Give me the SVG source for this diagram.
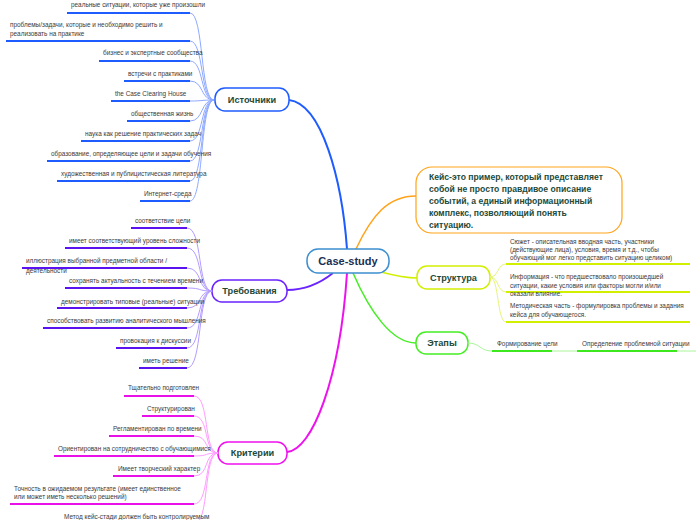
<svg xmlns="http://www.w3.org/2000/svg" width="696" height="520" viewBox="0 0 696 520">
<style>
.leaf{font-family:"Liberation Sans",Arial,sans-serif;font-size:6.4px;fill:#3a3a3a}
.nt{font-family:"Liberation Sans",Arial,sans-serif;font-weight:bold;fill:#1d4a3a;text-anchor:middle}
.lc{fill:none;stroke-width:1}
.ul{fill:none;stroke-width:2}
.b .ul{stroke:#1f5cff}
.b .lc{stroke:#8ea9ff}
.p .ul{stroke:#5b12f0}
.p .lc{stroke:#b49cff}
.m .ul{stroke:#e812e8}
.m .lc{stroke:#ff9cff}
.y .ul{stroke:#d2ef00}
.y .lc{stroke:#e4f57a}
.g .ul{stroke:#3ee81f}
.g .lc{stroke:#a9f59a}
</style>
<rect width="696" height="520" fill="#ffffff"/>
<g id="connectors">
<path d="M347,249 C342,180 322,104 289,100" fill="none" stroke="#1f5cff" stroke-width="2"/>
<path d="M356,249 C372,215 388,196 416,196" fill="none" stroke="#ffa31a" stroke-width="1.5"/>
<path d="M381,272 C396,276 405,278 417,278" fill="none" stroke="#d2ef00" stroke-width="1.5"/>
<path d="M353,273 C370,312 392,343 416,343" fill="none" stroke="#44ee22" stroke-width="1.5"/>
<path d="M333,273 C318,285 302,290 287,290" fill="none" stroke="#6a22ff" stroke-width="1.8"/>
<path d="M347,273 C340,380 312,450 287,452" fill="none" stroke="#ee11ee" stroke-width="2"/>
</g>
<g id="center"><rect x="307" y="249" width="82" height="24" rx="11" fill="#fff" stroke="#3d8fd0" stroke-width="1.5"/><text class="nt" x="348" y="265" font-size="11" style="fill:#1a2f55">Case-study</text></g>
<g id="node-istochniki"><rect x="215" y="88" width="74" height="23" rx="10" fill="#fff" stroke="#1f5cff" stroke-width="1.5"/><text class="nt" x="252" y="102.8" font-size="9.2">Источники</text></g>
<g id="node-trebovaniya"><rect x="212" y="280" width="75" height="22" rx="10" fill="#fff" stroke="#6a22ff" stroke-width="1.5"/><text class="nt" x="249.5" y="294.3" font-size="9.2">Требования</text></g>
<g id="node-kriterii"><rect x="218" y="442" width="69" height="22" rx="10" fill="#fff" stroke="#ee11ee" stroke-width="1.5"/><text class="nt" x="252.5" y="456.3" font-size="9.2">Критерии</text></g>
<g id="node-definition"><rect x="416" y="167" width="206" height="66" rx="16" fill="#fff" stroke="#ffa31a" stroke-width="1.2"/>
<text font-family="'Liberation Sans',Arial,sans-serif" font-weight="bold" font-size="8.6" fill="#1d4a3a"><tspan x="429" y="180">Кейс-это пример, который представляет</tspan><tspan x="429" y="192">собой не просто правдивое описание</tspan><tspan x="429" y="204">событий, а единый информационный</tspan><tspan x="429" y="216">комплекс, позволяющий понять</tspan><tspan x="429" y="228">ситуацию.</tspan></text></g>
<g id="node-struktura"><rect x="417" y="266" width="73" height="23" rx="10" fill="#fff" stroke="#d2ef00" stroke-width="1.5"/><text class="nt" x="453.5" y="280.8" font-size="9.2">Структура</text></g>
<g id="node-etapy"><rect x="416" y="332" width="52" height="22" rx="10" fill="#fff" stroke="#44ee22" stroke-width="1.5"/><text class="nt" x="442" y="346.3" font-size="9.2">Этапы</text></g>

<g id="leaves-istochniki" class="b">
<path class="lc" d="M190,13 C204,13 200,100 214,100 M190,41 C204,41 200,100 214,100 M190,61 C204,61 200,100 214,100 M190,81 C204,81 200,100 214,100 M190,101 C204,101 200,100 214,100 M190,121 C204,121 200,100 214,100 M190,141 C204,141 200,100 214,100 M190,161 C204,161 200,100 214,100 M190,181 C204,181 200,100 214,100 M190,201 C204,201 200,100 214,100"/>
<g id="leaf-i1"><path class="ul" d="M67,13 H190"/><text class="leaf" x="71" y="7.3">реальные ситуации, которые уже произошли</text></g>
<g id="leaf-i2"><path class="ul" d="M6,41 H190"/><text class="leaf"><tspan x="10" y="27">проблемы/задачи, которые и необходимо решить и</tspan><tspan x="10" y="35.5">реализовать на практике</tspan></text></g>
<g id="leaf-i3"><path class="ul" d="M99,61 H190"/><text class="leaf" x="103" y="55.3">бизнес и экспертные сообщества</text></g>
<g id="leaf-i4"><path class="ul" d="M124,81 H190"/><text class="leaf" x="128" y="76.3">встречи с практиками</text></g>
<g id="leaf-i5"><path class="ul" d="M111,101 H190"/><text class="leaf" x="115" y="96.3">the Case Clearing House</text></g>
<g id="leaf-i6"><path class="ul" d="M127,121 H190"/><text class="leaf" x="131" y="116.3">общественная жизнь</text></g>
<g id="leaf-i7"><path class="ul" d="M81,141 H190"/><text class="leaf" x="85" y="136.3">наука как решение практических задач</text></g>
<g id="leaf-i8"><path class="ul" d="M47,161 H190"/><text class="leaf" x="51" y="156.3">образование, определяющее цели и задачи обучения</text></g>
<g id="leaf-i9"><path class="ul" d="M57,181 H190"/><text class="leaf" x="61" y="176.3">художественная и публицистическая литература</text></g>
<g id="leaf-i10"><path class="ul" d="M140,201 H190"/><text class="leaf" x="144" y="196.3">Интернет-среда</text></g>
</g>

<g id="leaves-trebovaniya" class="p">
<path class="lc" d="M187,228 C203,228 197,291 212,291 M187,248 C203,248 197,291 212,291 M187,268 C203,268 197,291 212,291 M187,288 C203,288 197,291 212,291 M187,308 C203,308 197,291 212,291 M187,328 C203,328 197,291 212,291 M187,348 C203,348 197,291 212,291 M187,368 C203,368 197,291 212,291"/>
<g id="leaf-t1"><path class="ul" d="M131,228 H187"/><text class="leaf" x="135" y="223.3">соответствие цели</text></g>
<g id="leaf-t2"><path class="ul" d="M65,248 H187"/><text class="leaf" x="69" y="243.3">имеет соответствующий уровень сложности</text></g>
<g id="leaf-t3"><path class="ul" d="M22,268 H187"/><text class="leaf"><tspan x="26" y="263.3">иллюстрация выбранной предметной области /</tspan><tspan x="26" y="273">деятельности</tspan></text></g>
<g id="leaf-t4"><path class="ul" d="M65,288 H187"/><text class="leaf" x="69" y="283.3">сохранять актуальность с течением времени</text></g>
<g id="leaf-t5"><path class="ul" d="M57,308 H187"/><text class="leaf" x="61" y="304">демонстрировать типовые (реальные) ситуации</text></g>
<g id="leaf-t6"><path class="ul" d="M43,328 H187"/><text class="leaf" x="47" y="323.3">способствовать развитию аналитического мышления</text></g>
<g id="leaf-t7"><path class="ul" d="M116,348 H187"/><text class="leaf" x="120" y="343.3">провокация к дискуссии</text></g>
<g id="leaf-t8"><path class="ul" d="M139,368 H187"/><text class="leaf" x="143" y="363.3">иметь решение</text></g>
</g>

<g id="leaves-kriterii" class="m">
<path class="lc" d="M194,396 C210,396 203,453 218,453 M194,416 C210,416 203,453 218,453 M194,436 C210,436 203,453 218,453 M194,456 C210,456 203,453 218,453 M194,476 C210,476 203,453 218,453 M194,504 C210,504 203,453 218,453 M194,524 C210,524 203,453 218,453"/>
<g id="leaf-k1"><path class="ul" d="M124,396 H194"/><text class="leaf" x="128" y="390.3">Тщательно подготовлен</text></g>
<g id="leaf-k2"><path class="ul" d="M142,416 H194"/><text class="leaf" x="147" y="411.3">Структурирован</text></g>
<g id="leaf-k3"><path class="ul" d="M109,436 H194"/><text class="leaf" x="113" y="431.3">Регламентирован по времени</text></g>
<g id="leaf-k4"><path class="ul" d="M54,456 H194"/><text class="leaf" x="58" y="451.3">Ориентирован на сотрудничество с обучающимися</text></g>
<g id="leaf-k5"><path class="ul" d="M113,476 H194"/><text class="leaf" x="118" y="471.3">Имеет творческий характер</text></g>
<g id="leaf-k6"><path class="ul" d="M10,504 H194"/><text class="leaf"><tspan x="14" y="491.3">Точность в ожидаемом результате (имеет единственное</tspan><tspan x="14" y="499.3">или может иметь несколько решений)</tspan></text></g>
<g id="leaf-k7"><path class="ul" d="M60,524 H194"/><text class="leaf" x="64" y="519.3">Метод кейс-стади должен быть контролируемым</text></g>
</g>

<g id="leaves-struktura" class="y">
<path class="lc" d="M490,277 C499,277 497,264 506,264 M490,277 C499,277 497,292 506,292 M490,277 C499,277 497,322 506,322"/>
<g id="leaf-s1"><path class="ul" d="M506,264 H690"/><text class="leaf"><tspan x="510" y="244.3">Сюжет - описательная вводная часть, участники</tspan><tspan x="510" y="252.3">(действующие лица), условия, время и т.д., чтобы</tspan><tspan x="510" y="260.3">обучающий мог легко представить ситуацию целиком)</tspan></text></g>
<g id="leaf-s2"><path class="ul" d="M506,292 H690"/><text class="leaf"><tspan x="510" y="279.3">Информация - что предшествовало произошедшей</tspan><tspan x="510" y="288.3">ситуации, какие условия или факторы могли и/или</tspan><tspan x="510" y="296.3">оказали влияние.</tspan></text></g>
<g id="leaf-s3"><path class="ul" d="M506,322 H690"/><text class="leaf"><tspan x="510" y="308.3">Методическая часть - формулировка проблемы и задания</tspan><tspan x="510" y="317.3">кейса для обучающегося.</tspan></text></g>
</g>

<g id="leaves-etapy" class="g">
<path class="lc" d="M468,343 C480,343 480,351 492,351 M552,351 H577 M677,351 H696"/>
<g id="leaf-e1"><path class="ul" d="M492,351 H552"/><text class="leaf" x="497" y="346.3">Формирование цели</text></g>
<g id="leaf-e2"><path class="ul" d="M577,351 H677"/><text class="leaf" x="582" y="346.3">Определение проблемной ситуации</text></g>
</g>
</svg>
